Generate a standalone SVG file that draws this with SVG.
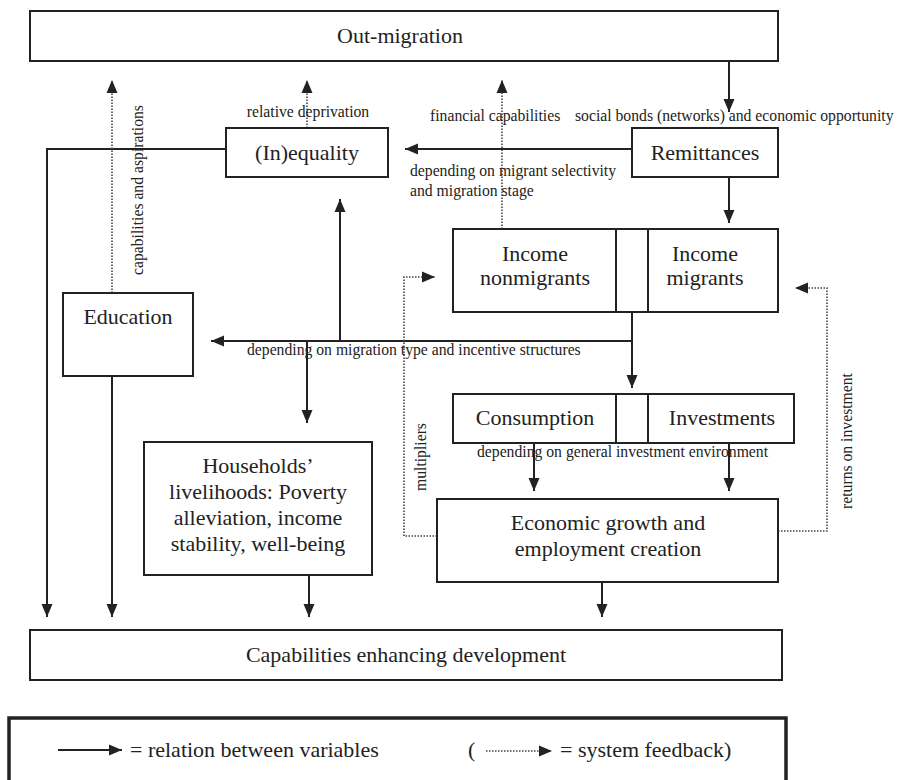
<svg xmlns="http://www.w3.org/2000/svg" width="897" height="780" viewBox="0 0 897 780">
<defs>
<style>
.box{fill:#fff;stroke:#222;stroke-width:2}
.t{font-family:"Liberation Serif","Times New Roman",serif;font-size:22px;fill:#222;text-anchor:middle}
.lab{font-family:"Liberation Serif","Times New Roman",serif;font-size:15.7px;fill:#222}
.ln{fill:none;stroke:#222;stroke-width:2}
.dot{fill:none;stroke:#444;stroke-width:1.6;stroke-dasharray:1.5 1.5}
</style>
<marker id="ah" markerUnits="userSpaceOnUse" markerWidth="14" markerHeight="14" viewBox="0 0 14 14" refX="13" refY="7" orient="auto">
<path d="M0,1.5 L13,7 L0,12.5 Z" fill="#222"/>
</marker>
</defs>
<rect width="897" height="780" fill="#fff"/>

<g id="connectors">
<path class="ln" d="M729,61 V112" marker-end="url(#ah)"/>
<path class="ln" d="M632,149 H405" marker-end="url(#ah)"/>
<path class="ln" d="M729,177 V223" marker-end="url(#ah)"/>
<path class="ln" d="M226,149 H47 V617" marker-end="url(#ah)"/>
<path class="ln" d="M112,376 V617" marker-end="url(#ah)"/>
<path class="ln" d="M309,575 V617" marker-end="url(#ah)"/>
<path class="ln" d="M602,582 V617" marker-end="url(#ah)"/>
<path class="ln" d="M632,312 V388" marker-end="url(#ah)"/>
<path class="ln" d="M632,341 H211" marker-end="url(#ah)"/>
<path class="ln" d="M340,341 V199" marker-end="url(#ah)"/>
<path class="ln" d="M307,341 V423" marker-end="url(#ah)"/>
<path class="ln" d="M534,443 V491" marker-end="url(#ah)"/>
<path class="ln" d="M729,443 V491" marker-end="url(#ah)"/>
<path class="dot" d="M112,293 V80" marker-end="url(#ah)"/>
<path class="dot" d="M307,128 V80" marker-end="url(#ah)"/>
<path class="dot" d="M502,229 V80" marker-end="url(#ah)"/>
<path class="dot" d="M437,536 H404 V277 H435" marker-end="url(#ah)"/>
<path class="dot" d="M778,531 H827 V288 H795" marker-end="url(#ah)"/>
<text class="lab" x="308" y="117" text-anchor="middle">relative deprivation</text>
<text class="lab" x="430" y="121">financial capabilities</text>
<text class="lab" x="575" y="121">social bonds (networks) and economic opportunity</text>
<text class="lab" x="410" y="176">depending on migrant selectivity</text>
<text class="lab" x="410" y="196">and migration stage</text>
<text class="lab" x="143" y="190" text-anchor="middle" transform="rotate(-90 143 190)">capabilities and aspirations</text>
<text class="lab" x="247" y="355">depending on migration type and incentive structures</text>
<text class="lab" x="477" y="457">depending on general investment environment</text>
<text class="lab" x="426" y="457" text-anchor="middle" transform="rotate(-90 426 457)">multipliers</text>
<text class="lab" x="852" y="441" text-anchor="middle" transform="rotate(-90 852 441)">returns on investment</text>
</g>

<g id="out-migration">
<rect class="box" x="30" y="11" width="748" height="50"/>
<text class="t" x="400" y="43">Out-migration</text>
</g>
<g id="remittances">
<rect class="box" x="632" y="128" width="146" height="49"/>
<text class="t" x="705" y="160">Remittances</text>
</g>
<g id="inequality">
<rect class="box" x="226" y="128" width="162" height="49"/>
<text class="t" x="307" y="160">(In)equality</text>
</g>
<g id="income">
<rect class="box" x="453" y="229" width="325" height="83"/>
<line class="ln" x1="616" y1="229" x2="616" y2="312"/>
<line class="ln" x1="648" y1="229" x2="648" y2="312"/>
<text class="t" x="535" y="261">Income</text>
<text class="t" x="535" y="285">nonmigrants</text>
<text class="t" x="705" y="261">Income</text>
<text class="t" x="705" y="285">migrants</text>
</g>
<g id="education">
<rect class="box" x="63" y="293" width="130" height="83"/>
<text class="t" x="128" y="324">Education</text>
</g>
<g id="consumption-investments">
<rect class="box" x="453" y="394" width="341" height="49"/>
<line class="ln" x1="616" y1="394" x2="616" y2="443"/>
<line class="ln" x1="648" y1="394" x2="648" y2="443"/>
<text class="t" x="535" y="425">Consumption</text>
<text class="t" x="722" y="425">Investments</text>
</g>
<g id="households">
<rect class="box" x="144" y="442" width="228" height="133"/>
<text class="t" x="258" y="473">Households’</text>
<text class="t" x="258" y="499">livelihoods: Poverty</text>
<text class="t" x="258" y="525">alleviation, income</text>
<text class="t" x="258" y="551">stability, well-being</text>
</g>
<g id="economic-growth">
<rect class="box" x="437" y="499" width="341" height="83"/>
<text class="t" x="608" y="530">Economic growth and</text>
<text class="t" x="608" y="556">employment creation</text>
</g>
<g id="capabilities">
<rect class="box" x="30" y="630" width="752" height="50"/>
<text class="t" x="406" y="662">Capabilities enhancing development</text>
</g>
<g id="legend">
<rect x="9" y="718" width="777" height="70" fill="#fff" stroke="#222" stroke-width="3.5"/>
<path class="ln" d="M58,750 H122" marker-end="url(#ah)"/>
<text class="t" x="130" y="757" style="text-anchor:start">= relation between variables</text>
<text class="t" x="468" y="757" style="text-anchor:start">(</text>
<path class="dot" d="M486,751 H552" marker-end="url(#ah)"/>
<text class="t" x="560" y="757" style="text-anchor:start">= system feedback)</text>
</g>
</svg>
